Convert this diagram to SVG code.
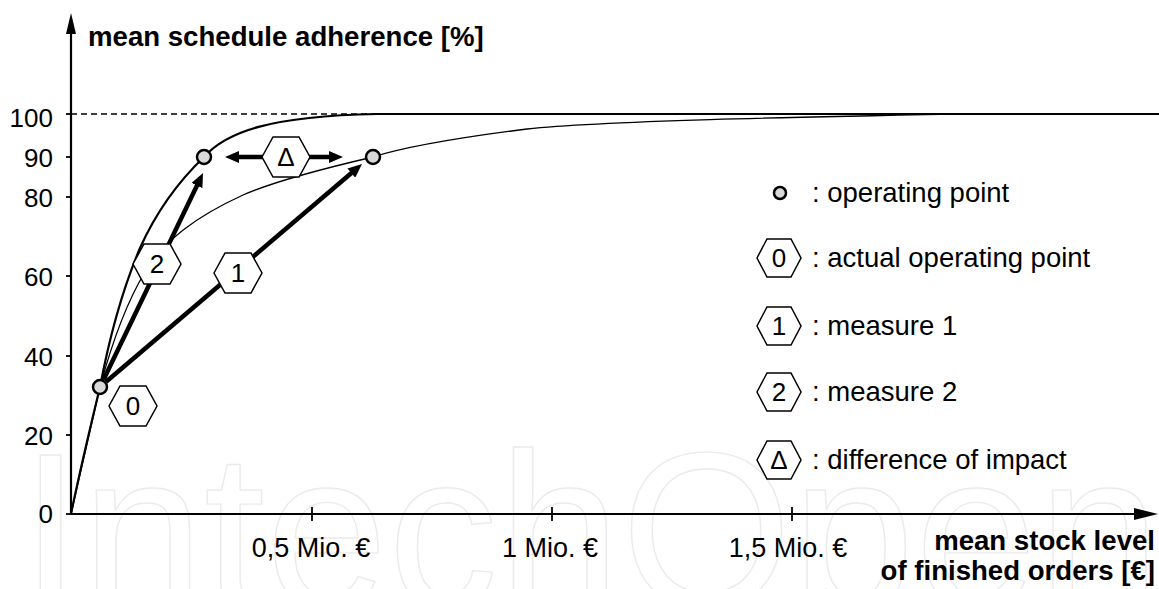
<svg xmlns="http://www.w3.org/2000/svg" width="1159" height="589" viewBox="0 0 1159 589">
<style>
  text{font-family:"Liberation Sans",Arial,sans-serif;fill:#000}
  .lbl{font-size:26px}
  .xl{font-size:27px}
  .leg{font-size:27.5px}
  .b{font-size:27.6px;font-weight:bold}
  .axis{stroke:#000;stroke-width:2.2;fill:none}
  .tick{stroke:#000;stroke-width:1.8}
  .pt{fill:#d9d9d9;stroke:#000;stroke-width:2.5}
  .arr{stroke:#000;stroke-width:4.5;fill:none}
  .wm{font-size:220px;fill:none;stroke:#ebebeb;stroke-width:1.4}
  .mid{text-anchor:middle}
  .end{text-anchor:end}
</style>
<defs>
  <marker id="ah" viewBox="0 0 14 12" refX="4" refY="6" markerWidth="14" markerHeight="12" markerUnits="userSpaceOnUse" orient="auto-start-reverse">
    <path d="M0,0L14,6L0,12z" fill="#000"/>
  </marker>
  <polygon id="hx" points="-24,0 -13,-20 13,-20 24,0 13,20 -13,20" fill="#fff" stroke="#000" stroke-width="1.5"/>
  <polygon id="hxs" points="-22,0 -12,-19 12,-19 22,0 12,19 -12,19" fill="#fff" stroke="#000" stroke-width="1.5"/>
</defs>

<rect width="1159" height="589" fill="#fff"/>

<g id="watermark">
  <text class="wm" x="20" y="607" textLength="1140" lengthAdjust="spacing">IntechOpen</text>
</g>

<g id="axes">
  <line class="axis" x1="71" y1="514" x2="71" y2="30"/>
  <polygon points="71,13 66,34 76,34" fill="#000"/>
  <line class="axis" x1="71" y1="514" x2="1136" y2="514"/>
  <polygon points="1158,514 1134,508 1134,520" fill="#000"/>
  <g class="tick">
    <line x1="66" y1="114" x2="71" y2="114"/>
    <line x1="66" y1="157" x2="71" y2="157"/>
    <line x1="66" y1="197" x2="71" y2="197"/>
    <line x1="66" y1="276" x2="71" y2="276"/>
    <line x1="66" y1="356" x2="71" y2="356"/>
    <line x1="66" y1="435" x2="71" y2="435"/>
    <line x1="66" y1="514" x2="71" y2="514"/>
    <line x1="312" y1="507" x2="312" y2="521"/>
    <line x1="552" y1="507" x2="552" y2="521"/>
    <line x1="792" y1="507" x2="792" y2="521"/>
  </g>
  <g class="lbl end">
    <text x="53" y="127">100</text>
    <text x="53" y="167">90</text>
    <text x="53" y="207">80</text>
    <text x="53" y="286">60</text>
    <text x="53" y="366">40</text>
    <text x="53" y="445">20</text>
    <text x="53" y="523">0</text>
  </g>
  <g class="xl mid">
    <text x="311" y="557">0,5 Mio. €</text>
    <text x="550" y="557">1 Mio. €</text>
    <text x="788" y="557">1,5 Mio. €</text>
  </g>
  <text class="b" x="88" y="46">mean schedule adherence [%]</text>
  <text class="b end" x="1155" y="550">mean stock level</text>
  <text class="b end" x="1155" y="580">of finished orders [€]</text>
</g>

<g id="curves" fill="none" stroke="#000">
  <line x1="71" y1="114" x2="377" y2="114" stroke-width="1.5" stroke-dasharray="6,4"/>
  <path id="curveA" stroke-width="2.2" d="M71,514 C80,470 92,420 100,387 C107,350 118,300 140,248 C158,208 180,180 204,157 C226,132 270,116 377,114 L1159,114"/>
  <path id="curveB" stroke-width="1.3" d="M71,514 L100,387 C110,350 125,305 145,272 C165,240 195,217 243,195 C275,181 330,167 373,157 C395,150 440,140 527,129 C600,121 800,117 955,114"/>
</g>

<g id="connectors">
  <line id="measure2" class="arr" x1="103.5" y1="379.8" x2="198.7" y2="182" marker-end="url(#ah)"/>
  <line id="measure1" class="arr" x1="106.1" y1="381.8" x2="354.4" y2="170.5" marker-end="url(#ah)"/>
  <line id="delta" class="arr" x1="235" y1="157" x2="333" y2="157" marker-start="url(#ah)" marker-end="url(#ah)"/>
</g>

<g id="point0"><circle class="pt" cx="100" cy="387" r="7"/></g>
<g id="pointA"><circle class="pt" cx="204" cy="157" r="7"/></g>
<g id="pointB"><circle class="pt" cx="373" cy="157" r="7"/></g>

<g id="hex0"><use href="#hx" x="133" y="406"/><text class="lbl mid" x="133" y="415">0</text></g>
<g id="hex1"><use href="#hx" x="238" y="273"/><text class="lbl mid" x="238" y="282">1</text></g>
<g id="hex2"><use href="#hx" x="157" y="264"/><text class="lbl mid" x="157" y="273">2</text></g>
<g id="hexDelta"><use href="#hx" x="286" y="157"/><text class="lbl mid" x="286" y="166">Δ</text></g>

<g id="legend">
  <g id="leg-point"><circle class="pt" cx="780" cy="193" r="6"/><text class="leg" x="812" y="202">: operating point</text></g>
  <g id="leg-0"><use href="#hxs" x="779" y="258"/><text class="lbl mid" x="779" y="267">0</text><text class="leg" x="812" y="267">: actual operating point</text></g>
  <g id="leg-1"><use href="#hxs" x="779" y="326"/><text class="lbl mid" x="779" y="335">1</text><text class="leg" x="812" y="335">: measure 1</text></g>
  <g id="leg-2"><use href="#hxs" x="779" y="392"/><text class="lbl mid" x="779" y="401">2</text><text class="leg" x="812" y="401">: measure 2</text></g>
  <g id="leg-d"><use href="#hxs" x="779" y="460"/><text class="lbl mid" x="779" y="469">Δ</text><text class="leg" x="812" y="469">: difference of impact</text></g>
</g>
</svg>
